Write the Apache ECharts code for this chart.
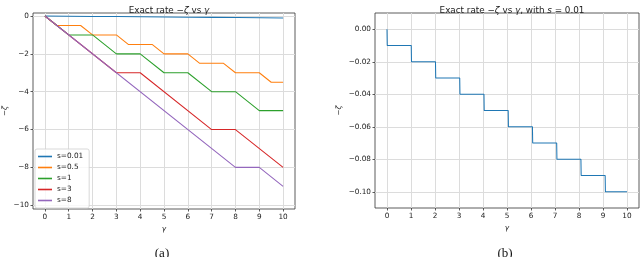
<!DOCTYPE html>
<html><head><meta charset="utf-8">
<script src="https://cdn.jsdelivr.net/npm/echarts@6/dist/echarts.min.js"></script>
<style>html,body{margin:0;padding:0;background:#fff}#c{width:640px;height:257px}</style>
</head><body><div id="c"></div>
<script>
// ---- data ----
const seriesNames = ['s=0.01', 's=0.5', 's=1', 's=3', 's=8'];
const xS001 = [0, 0.01, 1.01, 1.02, 2.02, 2.03, 3.03, 3.04, 4.04, 4.05, 5.05, 5.06, 6.06, 6.07, 7.07, 7.08, 8.08, 8.09, 9.09, 9.10, 10];
const yS001 = [0, -0.01, -0.01, -0.02, -0.02, -0.03, -0.03, -0.04, -0.04, -0.05, -0.05, -0.06, -0.06, -0.07, -0.07, -0.08, -0.08, -0.09, -0.09, -0.10, -0.10];
const xS05 = [0, 0.5, 1.5, 2, 3, 3.5, 4.5, 5, 6, 6.5, 7.5, 8, 9, 9.5, 10];
const yS05 = [0, -0.5, -0.5, -1, -1, -1.5, -1.5, -2, -2, -2.5, -2.5, -3, -3, -3.5, -3.5];
const xS1 = [0, 1, 2, 3, 4, 5, 6, 7, 8, 9, 10];
const yS1 = [0, -1, -1, -2, -2, -3, -3, -4, -4, -5, -5];
const xS3 = [0, 3, 4, 7, 8, 10];
const yS3 = [0, -3, -3, -6, -6, -8];
const xS8 = [0, 8, 9, 10];
const yS8 = [0, -8, -8, -9];
const xTicks = [0, 1, 2, 3, 4, 5, 6, 7, 8, 9, 10];
const yTicksA = [-10, -8, -6, -4, -2, 0];
const yTicksB = [-0.10, -0.08, -0.06, -0.04, -0.02, 0.00];

const colors = ['#1f77b4', '#ff7f0e', '#2ca02c', '#d62728', '#9467bd'];
const FONT = 'DejaVu Sans';
const TXT = '#222';
const zip = (xs, ys) => xs.map((x, i) => [x, ys[i]]);
const allX = [xS001, xS05, xS1, xS3, xS8];
const allY = [yS001, yS05, yS1, yS3, yS8];
const minus = s => String(s).replace('-', '\u2212');

function xAxisCfg(gi) {
  return {
    type: 'value', gridIndex: gi, min: -0.5, max: 10.5, position: 'bottom',
    name: 'γ', nameLocation: 'middle', nameGap: 13,
    nameTextStyle: { fontFamily: FONT, fontSize: 7.3, color: TXT, fontStyle: 'italic' },
    axisLine: { show: false, onZero: false },
    axisTick: { show: true, length: 2.5, lineStyle: { color: '#333', width: 0.8 }, customValues: xTicks },
    axisLabel: { customValues: xTicks, fontFamily: FONT, fontSize: 7.3, color: TXT, margin: 5, formatter: v => minus(v) },
    splitLine: { show: true, lineStyle: { color: '#dcdcdc', width: 1 } }
  };
}
function yAxisCfg(gi, min, max, ticks, fmt, gap) {
  return {
    type: 'value', gridIndex: gi, min: min, max: max, position: 'left',
    name: '{m|\u2212}{i|ζ}', nameLocation: 'middle', nameGap: gap,
    nameTextStyle: { fontFamily: FONT, fontSize: 7.3, color: TXT,
      rich: { m: { fontFamily: FONT, fontSize: 7.3, color: TXT }, i: { fontFamily: FONT, fontSize: 7.3, color: TXT, fontStyle: 'italic' } } },
    axisLine: { show: false, onZero: false },
    axisTick: { show: true, length: 2.5, lineStyle: { color: '#333', width: 0.8 }, customValues: ticks },
    axisLabel: { customValues: ticks, fontFamily: FONT, fontSize: 7.3, color: TXT, margin: 4, formatter: fmt },
    splitLine: { show: true, lineStyle: { color: '#dcdcdc', width: 1 } }
  };
}
const richT = {
  n: { fontFamily: FONT, fontSize: 8.8, color: TXT, fontWeight: 'normal' },
  i: { fontFamily: FONT, fontSize: 8.8, color: TXT, fontStyle: 'italic', fontWeight: 'normal' }
};

const series = [];
seriesNames.forEach((nm, k) => {
  series.push({
    name: nm, type: 'line', xAxisIndex: 0, yAxisIndex: 0,
    data: zip(allX[k], allY[k]), showSymbol: false, symbol: 'none',
    lineStyle: { color: colors[k], width: 1.05 }, itemStyle: { color: colors[k] },
    animation: false
  });
});
series.push({
  name: 'right', type: 'line', xAxisIndex: 1, yAxisIndex: 1,
  data: zip(xS001, yS001), showSymbol: false, symbol: 'none',
  lineStyle: { color: colors[0], width: 1.05 }, animation: false
});

const chart = echarts.init(document.getElementById('c'), null, { renderer: 'canvas' });
chart.setOption({
  animation: false,
  backgroundColor: '#fff',
  title: [
    { text: '{n|Exact rate \u2212}{i|ζ}{n| vs }{i|γ}', left: 164, top: 1, textAlign: 'center',
      textStyle: { rich: richT, fontFamily: FONT, fontSize: 8.8, fontWeight: 'normal', color: TXT } },
    { text: '{n|Exact rate \u2212}{i|ζ}{n| vs }{i|γ}{n|, with }{i|s}{n| = 0.01}', left: 507, top: 1, textAlign: 'center',
      textStyle: { rich: richT, fontFamily: FONT, fontSize: 8.8, fontWeight: 'normal', color: TXT } },
    { text: '(a)', left: 157, top: 242, textAlign: 'center',
      textStyle: { fontFamily: 'Liberation Serif', fontSize: 13, fontWeight: 'normal', color: '#111' } },
    { text: '(b)', left: 500, top: 242, textAlign: 'center',
      textStyle: { fontFamily: 'Liberation Serif', fontSize: 13, fontWeight: 'normal', color: '#111' } }
  ],
  legend: {
    data: seriesNames, orient: 'vertical', left: 35, top: 149,
    icon: 'rect', itemWidth: 14, itemHeight: 1.6, itemGap: 2,
    padding: [3, 6, 3, 3],
    borderColor: '#cfcfcf', borderWidth: 0.8, borderRadius: 2,
    backgroundColor: 'rgba(255,255,255,0.8)',
    textStyle: { fontFamily: FONT, fontSize: 7.3, color: TXT, lineHeight: 9 }
  },
  grid: [
    { left: 33, top: 13, width: 262, height: 196, show: true, borderColor: '#333', borderWidth: 0.8, backgroundColor: 'transparent', containLabel: false },
    { left: 375, top: 13, width: 264, height: 195, show: true, borderColor: '#333', borderWidth: 0.8, backgroundColor: 'transparent', containLabel: false }
  ],
  xAxis: [xAxisCfg(0), xAxisCfg(1)],
  yAxis: [
    yAxisCfg(0, -10.2, 0.16, yTicksA, v => minus(v), 24),
    yAxisCfg(1, -0.11, 0.01, yTicksB, v => minus(v.toFixed(2)), 32)
  ],
  series: series
});
</script>
</body></html>
